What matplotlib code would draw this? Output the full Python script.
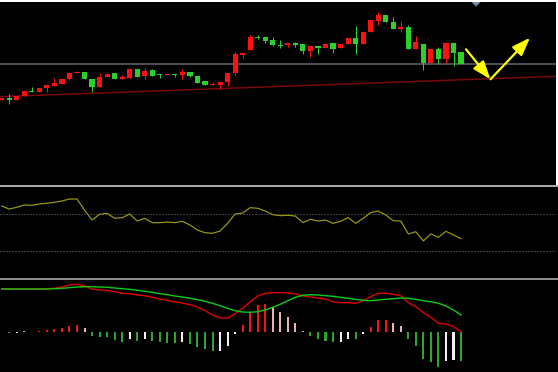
import matplotlib
matplotlib.use("Agg")
import matplotlib.pyplot as plt
from matplotlib.patches import Rectangle, Polygon

# --- data --------------------------------------------------------------------
# candlesticks (62 sessions)
opens = [100.0, 102.3, 100.0, 104.0, 109.0, 108.3, 111.7, 114.0, 116.0, 121.0,
         127.0, 128.0, 120.7, 113.0, 123.0, 127.0, 121.3, 122.5, 130.7, 124.0,
         129.7, 126.3, 124.7, 126.3, 125.0, 128.0, 124.3, 118.7, 114.7, 114.7,
         117.7, 126.7, 145.0, 150.0, 163.0, 162.7, 159.7, 155.3, 155.3, 156.7,
         155.7, 148.7, 154.3, 152.3, 156.7, 151.7, 156.0, 162.3, 155.7, 167.7,
         179.0, 185.0, 178.3, 171.0, 173.0, 151.3, 155.7, 136.7, 151.0, 140.7,
         157.3, 147.7]
closes = [102.3, 100.0, 104.3, 108.7, 108.0, 112.0, 114.7, 117.0, 121.0, 127.0,
          128.3, 120.7, 113.3, 123.0, 126.0, 121.0, 122.3, 130.7, 123.3, 129.0,
          124.3, 124.7, 126.3, 125.0, 128.0, 123.7, 117.3, 115.0, 116.0, 118.3,
          127.0, 146.3, 147.3, 163.3, 161.7, 159.3, 155.0, 153.7, 156.7, 155.3,
          149.0, 154.0, 152.3, 156.0, 151.3, 156.3, 162.3, 156.3, 168.3, 179.7,
          184.7, 177.7, 171.0, 172.7, 151.3, 157.7, 136.7, 150.7, 140.7, 157.3,
          146.7, 136.0]
highs = [102.3, 105.7, 104.3, 108.7, 112.7, 112.0, 114.7, 121.7, 121.0, 127.0,
         129.0, 128.0, 120.7, 126.7, 127.3, 127.0, 125.0, 130.7, 130.7, 131.7,
         131.0, 126.3, 126.3, 126.3, 130.7, 128.0, 124.3, 118.7, 118.3, 118.3,
         127.0, 148.3, 147.3, 165.0, 164.7, 162.7, 162.7, 160.0, 156.7, 158.0,
         155.7, 154.0, 154.3, 156.0, 156.7, 156.3, 162.3, 173.7, 168.3, 179.7,
         188.3, 185.0, 182.7, 179.3, 175.3, 164.0, 155.7, 150.7, 153.3, 157.3,
         157.3, 147.7]
lows = [100.0, 95.7, 100.0, 104.0, 108.0, 108.3, 108.3, 114.0, 116.0, 119.7,
        127.0, 120.7, 107.7, 113.0, 123.0, 121.0, 121.3, 122.5, 123.3, 121.3,
        124.3, 122.3, 124.7, 122.7, 120.7, 122.7, 117.3, 115.0, 114.7, 110.7,
        114.0, 125.0, 141.7, 150.0, 160.7, 157.0, 154.0, 152.0, 153.3, 153.0,
        145.7, 142.7, 146.3, 152.3, 147.0, 151.7, 156.0, 145.7, 155.7, 167.7,
        175.0, 177.7, 171.0, 168.3, 151.3, 151.3, 130.3, 136.7, 135.7, 136.7,
        133.7, 136.0]

# price guide + trend line + hand-drawn arrows
guide_price = 136.5
trend_pts = [(0, 103.4), (70, 122.7)]
arrow_down = [(61.66, 150.7), (64.91, 120.7)]
arrow_up = [(64.91, 120.7), (70.16, 162.3)]
marker_x = 63.0

# oscillator (RSI style, guides at 70 / 30)
rsi = [79.1, 75.8, 77.7, 80.2, 79.9, 81.3, 82.1, 83.2, 84.6, 86.8,
       86.8, 74.7, 63.7, 70.0, 71.1, 65.6, 66.3, 70.3, 62.6, 65.6,
       60.8, 60.8, 61.5, 60.8, 62.3, 58.2, 52.7, 49.8, 49.1, 51.6,
       60.1, 70.3, 71.4, 77.3, 76.6, 73.6, 69.6, 68.5, 68.9, 68.1,
       60.8, 64.5, 62.6, 63.7, 60.1, 62.3, 66.3, 60.1, 65.6, 71.8,
       73.6, 69.2, 63.0, 62.6, 48.4, 50.9, 40.7, 48.4, 44.7, 51.3,
       47.3, 43.2]
rsi_levels = [70, 30]

# MACD
dif = [42.7, 42.7, 42.7, 42.7, 42.7, 42.7, 43.0, 43.4, 44.7, 46.7,
       47.4, 46.0, 42.7, 41.7, 41.4, 40.0, 38.4, 38.0, 36.7, 36.0,
       34.4, 32.7, 31.4, 29.7, 28.7, 27.0, 24.7, 21.0, 16.7, 13.7,
       13.7, 18.0, 23.4, 30.0, 35.7, 38.4, 39.0, 39.0, 38.7, 37.7,
       35.7, 34.7, 33.7, 32.7, 30.0, 29.0, 29.0, 28.4, 31.0, 35.0,
       38.4, 38.4, 37.4, 36.0, 29.0, 25.0, 19.0, 14.4, 8.4, 7.7,
       5.0, 0.0]
dea = [42.7, 42.7, 42.7, 42.7, 42.7, 42.7, 42.7, 43.0, 43.4, 44.0,
       44.7, 45.0, 45.0, 44.7, 44.4, 43.7, 43.0, 42.4, 41.4, 40.4,
       39.4, 38.0, 37.0, 35.7, 34.7, 33.4, 32.0, 30.4, 28.4, 26.0,
       23.4, 21.0, 19.7, 19.4, 20.0, 21.7, 24.4, 27.4, 31.0, 34.4,
       36.4, 37.0, 36.7, 36.0, 35.4, 34.4, 33.4, 32.4, 31.4, 31.0,
       31.7, 32.4, 33.0, 33.7, 33.4, 32.4, 31.0, 30.0, 28.4, 25.7,
       21.7, 16.7]
hist = [0.0, -1.5, -1.0, 0.5, -0.4, 0.6, 1.7, 2.3, 3.3, 6.0,
        7.0, 3.3, -4.0, -5.0, -5.2, -8.0, -10.0, -7.7, -9.0, -7.7,
        -9.7, -10.0, -11.0, -11.2, -10.7, -12.3, -15.0, -17.7, -19.3, -19.0,
        -14.0, -2.7, 6.7, 19.3, 26.3, 28.0, 25.0, 20.0, 15.0, 9.0,
        1.0, -4.3, -7.7, -9.0, -10.7, -10.0, -7.0, -7.7, -2.7, 5.0,
        11.7, 11.8, 9.0, 5.7, -7.7, -14.0, -27.7, -30.3, -35.0, -29.3,
        -28.3, -29.3]

# --- layout (pixels of a 558x372 canvas) -------------------------------------
W, H = 558, 372
PX = 0.72  # one pixel in points at dpi 100
step = 7.53  # pixels per candle
x0 = -1.7 / step
x1 = x0 + 556 / step
idx = list(range(len(opens)))


def add_panel(top, bottom):
    ax = fig.add_axes([0, (H - bottom) / H, 556 / W, (bottom - top) / H])
    ax.set_facecolor("black")
    ax.set_xlim(x0, x1)
    ax.axis("off")
    return ax


fig = plt.figure(figsize=(W / 100, H / 100), dpi=100, facecolor="black")

# --- price panel -------------------------------------------------------------
ax1 = add_panel(2, 185)
ax1.set_ylim(15, 198)

ax1.axhline(guide_price, color="#4b4b55", lw=2 * PX, zorder=1)
ax1.axline(trend_pts[0], trend_pts[1], color="#7a0a0a", lw=1.5 * PX, zorder=1)

for i in idx:
    o, c = opens[i], closes[i]
    col = "#ff1010" if c >= o else "#2ad12a"
    ax1.vlines(i, lows[i], highs[i], color=col, lw=PX, zorder=2)
    body = max(abs(c - o), 1.2)
    ax1.bar(i, body, bottom=min(o, c), width=0.68, color=col, lw=0, zorder=3)

for start, end in (arrow_down, arrow_up):
    ax1.annotate("", xy=end, xytext=start,
                 arrowprops=dict(arrowstyle="-|>,head_length=1.1,head_width=0.4",
                                 color="#ffff00", lw=2.2 * PX,
                                 shrinkA=0, shrinkB=0), zorder=5)

# small marker triangle at the top edge
ax1.add_patch(Polygon([(marker_x - 0.6, 198), (marker_x + 0.6, 198),
                       (marker_x, 193.5)], closed=True,
                      color="#7f8fa6", lw=0, clip_on=False))

# --- oscillator panel --------------------------------------------------------
ax2 = add_panel(187, 278)
ax2.set_ylim(0, 100)
for lvl in rsi_levels:
    ax2.axhline(lvl, color="#7a7a7a", lw=PX, linestyle=(0, (1, 2)))
ax2.plot(idx, rsi, color="#9a9a12", lw=1.2 * PX)

# --- MACD panel --------------------------------------------------------------
ax3 = add_panel(280, 372)
ax3.set_ylim(-40.3, 51.7)

hist_colors = []
prev = 0.0
for v in hist:
    grow = abs(v) >= abs(prev)
    if v >= 0:
        hist_colors.append("#ff1010" if grow else "#e6b3ba")
    else:
        hist_colors.append("#2aa82a" if grow else "#f0f0f0")
    prev = v
ax3.bar(idx, hist, width=0.27, color=hist_colors, lw=0)

ax3.plot(idx, dif, color="#e00000", lw=1.4 * PX)
ax3.plot(idx, dea, color="#10cc10", lw=1.4 * PX)

# --- separators and frame ----------------------------------------------------
fig.patches.extend([
    Rectangle((0, (H - 187) / H), 1, 2 / H, transform=fig.transFigure,
              color="#a8a8a8", lw=0),
    Rectangle((0, (H - 280) / H), 1, 2 / H, transform=fig.transFigure,
              color="#8c8c8c", lw=0),
    Rectangle((0, (H - 2) / H), 1, 2 / H, transform=fig.transFigure,
              color="white", lw=0),
    Rectangle((556 / W, (H - 185) / H), 2 / W, 185 / H,
              transform=fig.transFigure, color="white", lw=0),
])

plt.savefig("out.png", dpi=100, facecolor="black")
